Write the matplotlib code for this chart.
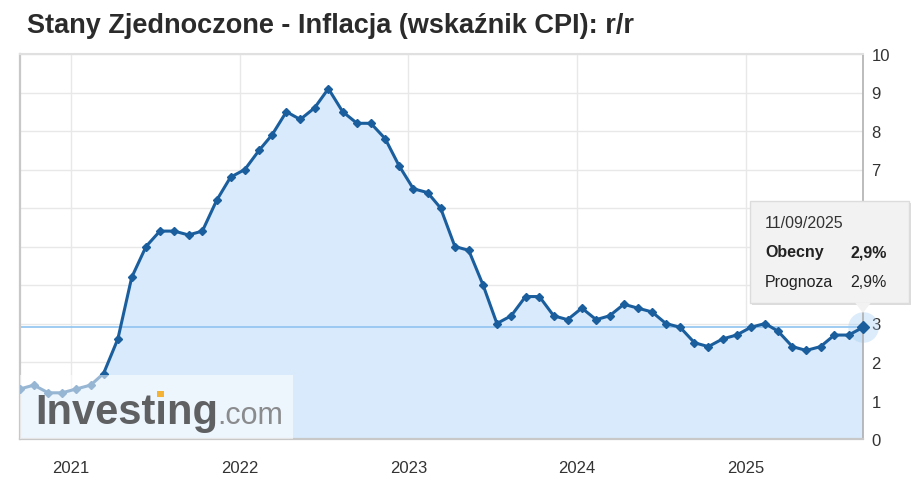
import matplotlib
matplotlib.use("Agg")
import matplotlib.pyplot as plt
import pandas as pd
from matplotlib.patches import Rectangle, Polygon

# ---- data ----
title = "Stany Zjednoczone - Inflacja (wskaźnik CPI): r/r"
# release dates (one per month, Sep 2020 .. Sep 2025)
release_dates = pd.date_range("2020-09-01", "2025-09-01", freq="MS") + pd.Timedelta(days=11)
cpi_yoy = [1.3, 1.4, 1.2, 1.2, 1.3, 1.4, 1.7, 2.6, 4.2, 5.0, 5.4, 5.4, 5.3, 5.4,
           6.2, 6.8, 7.0, 7.5, 7.9, 8.5, 8.3, 8.6, 9.1, 8.5, 8.2, 8.2, 7.8, 7.1,
           6.5, 6.4, 6.0, 5.0, 4.9, 4.0, 3.0, 3.2, 3.7, 3.7, 3.2, 3.1, 3.4, 3.1,
           3.2, 3.5, 3.4, 3.3, 3.0, 2.9, 2.5, 2.4, 2.6, 2.7, 2.9, 3.0, 2.8, 2.4,
           2.3, 2.4, 2.7, 2.7, 2.9]
year_ticks = ["2021", "2022", "2023", "2024", "2025"]
y_ticks = list(range(0, 11))
hidden_y_labels = [4, 5, 6]  # covered by the tooltip in the reference
tooltip_date = "11/09/2025"
tooltip_rows = [("Obecny", "2,9%"), ("Prognoza", "2,9%")]
latest_value = cpi_yoy[-1]

plt.rcParams["font.family"] = ["Liberation Sans", "DejaVu Sans"]

W, H = 920, 481
fig = plt.figure(figsize=(W / 100, H / 100), dpi=100)
fig.patch.set_facecolor("white")
L, R, T, B = 20, 863, 55, 440
ax = fig.add_axes([L / W, 1 - B / H, (R - L) / W, (B - T) / H])

line_c = "#1b5e9e"
fill_c = "#d8eafb"

x = release_dates
ax.fill_between(x, cpi_yoy, 0, color=fill_c, zorder=1, lw=0)
ax.axhline(latest_value, color="#8fc3f0", lw=1.2, zorder=2)
ax.plot(x, cpi_yoy, color=line_c, lw=2.2, marker="D", ms=4.5, zorder=3,
        solid_joinstyle="round")
# halo on latest point
ax.plot([x[-1]], [latest_value], "o", ms=22, color="#9ccaf2", alpha=0.35,
        zorder=2.5, mec="none", clip_on=False)
ax.plot([x[-1]], [latest_value], "D", ms=6.5, color=line_c, zorder=4, clip_on=False)

ax.set_xlim(x[0], x[-1])
ax.set_ylim(0, 10)

# grid
ax.set_yticks(y_ticks)
ax.set_yticklabels(["" if v in hidden_y_labels else str(v) for v in y_ticks])
ax.set_xticks([pd.Timestamp(f"{y}-01-01") for y in year_ticks])
ax.set_xticklabels(year_ticks)
ax.grid(True, color="#e8e8e8", lw=1, zorder=0)
ax.set_axisbelow(True)
ax.yaxis.tick_right()
ax.tick_params(axis="both", length=0, labelsize=12, colors="#333333")
ax.tick_params(axis="y", pad=6)
ax.tick_params(axis="x", pad=15)

for s in ["left", "bottom"]:
    ax.spines[s].set_color("#c8c8c8")
    ax.spines[s].set_linewidth(1.6)
ax.spines["right"].set_color("#b0b0b0")
ax.spines["right"].set_linewidth(1.2)
ax.spines["top"].set_color("#e0e0e0")
ax.spines["top"].set_linewidth(1.5)

# logo overlay
ax.add_patch(Rectangle((0, 0), 273 / (R - L), 64 / (B - T), transform=ax.transAxes,
                       facecolor="white", alpha=0.55, lw=0, zorder=5))
fig.text(35 / W, 1 - 424 / H, "Investing", fontsize=30, fontweight="bold",
         color="#5f6062", ha="left", va="baseline", zorder=6)
fig.text(217 / W, 1 - 424 / H, ".com", fontsize=22, color="#8a8b8d",
         ha="left", va="baseline", zorder=6)
# small orange accent on the i
fig.patches.append(Rectangle((157 / W, 1 - 398 / H), 7 / W, 6 / H,
                             transform=fig.transFigure, facecolor="#f5b335",
                             lw=0, zorder=7))

# title
fig.text(27 / W, 1 - 26 / H, title, fontsize=19.5, fontweight="bold",
         color="#2b2b2b", ha="left", va="center")

# tooltip
bx0, by0, bx1, by1 = 750, 202, 909, 304
fig.patches.append(Rectangle(((bx0 + 2) / W, 1 - (by1 + 2) / H), (bx1 - bx0) / W,
                             (by1 - by0) / H, transform=fig.transFigure,
                             facecolor="#bdbdbd", alpha=0.5, lw=0, zorder=9))
fig.patches.append(Rectangle((bx0 / W, 1 - by1 / H), (bx1 - bx0) / W, (by1 - by0) / H,
                             transform=fig.transFigure, facecolor="#f2f2f2",
                             edgecolor="#dcdcdc", lw=1, zorder=10))
fig.patches.append(Polygon([((R - 8) / W, 1 - (by1 - 0.5) / H),
                            ((R + 8) / W, 1 - (by1 - 0.5) / H),
                            (R / W, 1 - 314 / H)], closed=True,
                           transform=fig.transFigure, facecolor="#f2f2f2",
                           edgecolor="none", zorder=11))
fig.text(765 / W, 1 - 223 / H, tooltip_date, fontsize=11.5, color="#333333",
         ha="left", va="center", zorder=12)
for i, (lab, val) in enumerate(tooltip_rows):
    wt = "bold" if i == 0 else "normal"
    yy = 1 - (253 + 30 * i) / H
    fig.text(765 / W, yy, lab, fontsize=11.5, fontweight=wt, color="#222222",
             ha="left", va="center", zorder=12)
    fig.text(887 / W, yy, val, fontsize=11.5, fontweight=wt, color="#222222",
             ha="right", va="center", zorder=12)

fig.savefig("out.png", dpi=100, facecolor="white")
